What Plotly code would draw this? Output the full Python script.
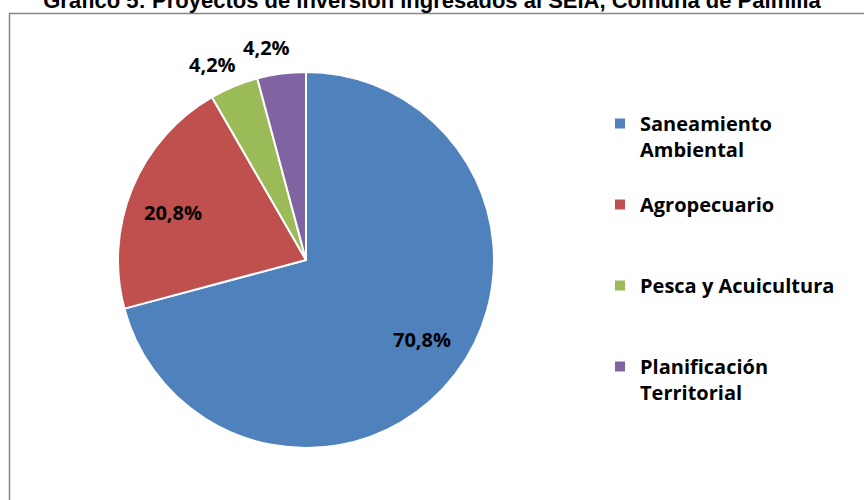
import math
import plotly.graph_objects as go

categories = ["Saneamiento Ambiental", "Agropecuario", "Pesca y Acuicultura", "Planificación Territorial"]
legend_labels = ["Saneamiento<br>Ambiental<br> ", "Agropecuario<br> <br> ", "Pesca y Acuicultura<br> <br> ", "Planificación<br>Territorial<br> "]
counts = [17, 5, 1, 1]
label_inside = [True, True, False, False]
colors = ["#4F81BD", "#C0504D", "#9BBB59", "#8064A2"]
title_text = "Gráfico 5: Proyectos de inversión ingresados al SEIA, Comuna de Palmilla"

W, H = 864, 500
cx, cy, r = 306, 260, 188
label_angle_offset = -3.0  # degrees

fig = go.Figure(go.Pie(
    labels=legend_labels,
    values=counts,
    sort=False,
    direction="clockwise",
    rotation=0,
    marker=dict(colors=colors, line=dict(color="white", width=2)),
    textinfo="none",
    domain=dict(x=[(cx - r) / W, (cx + r) / W], y=[1 - (cy + r) / H, 1 - (cy - r) / H]),
    customdata=categories,
    hovertemplate="%{customdata}: %{percent}<extra></extra>",
))

# data labels placed at slice mid-angles
total = sum(counts)
annotations = []
start = 0.0
for v, inside in zip(counts, label_inside):
    frac = v / total
    mid = (start + frac / 2) * 2 * math.pi + math.radians(label_angle_offset)
    start += frac
    d = r * (0.75 if inside else 1.15)
    px = cx + d * math.sin(mid)
    py = cy - d * math.cos(mid)
    txt = f"{frac * 100:.1f}%".replace(".", ",")
    annotations.append(dict(x=px / W, y=1 - py / H, xref="paper", yref="paper", text=txt,
                            showarrow=False, xanchor="center", yanchor="middle",
                            font=dict(family="Open Sans", size=20, color="black", weight="bold")))

fig.update_layout(
    width=W, height=H,
    margin=dict(l=0, r=0, t=0, b=0),
    separators=",.",
    paper_bgcolor="white",
    plot_bgcolor="white",
    title=dict(text=title_text, x=0.5, xanchor="center", y=1, yref="container", yanchor="middle",
               font=dict(family="Liberation Sans", size=22, color="black", weight="bold")),
    legend=dict(x=600 / W, y=1 - 104 / H, xanchor="left", yanchor="top", valign="top",
                font=dict(family="Open Sans", size=20, color="black", weight="bold"),
                itemwidth=30, traceorder="normal"),
    annotations=annotations,
    shapes=[dict(type="rect", xref="paper", yref="paper", x0=9.5 / W, x1=1.02, y0=-0.02, y1=1 - 13.5 / H,
                 line=dict(color="#868686", width=1.5), fillcolor="rgba(0,0,0,0)", layer="below")],
)

fig.write_html("out.html", config={"displayModeBar": False},
               post_script="document.body.style.margin='0';")
